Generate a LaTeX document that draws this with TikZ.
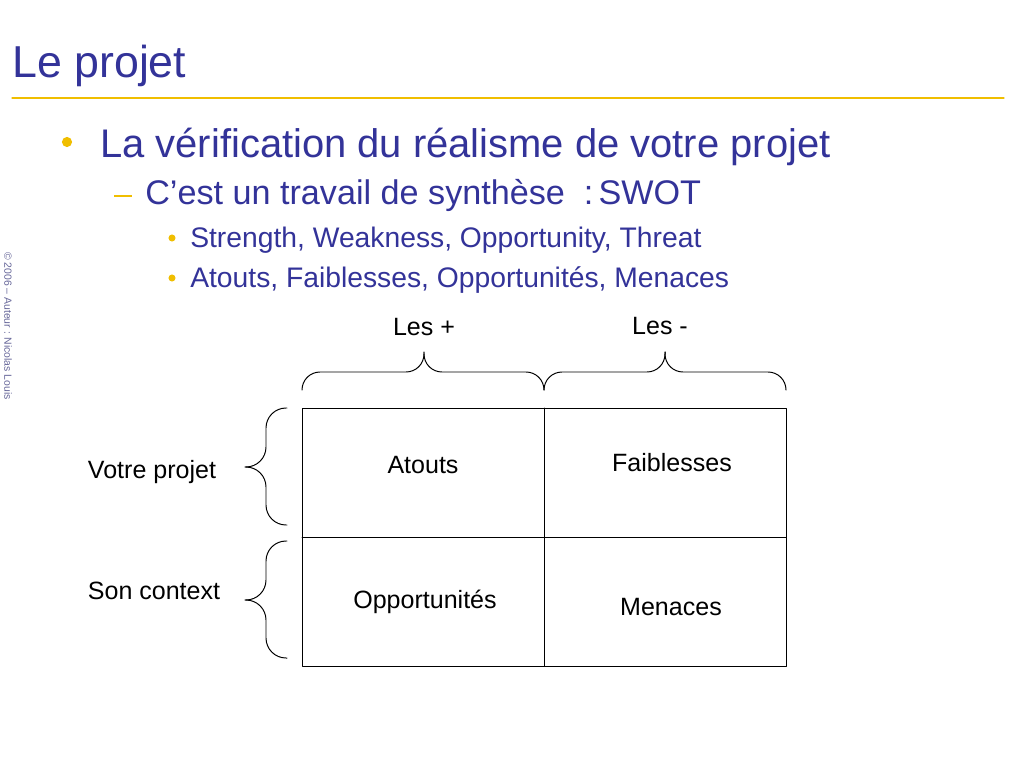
\documentclass[tikz,border=0pt]{standalone}
\usepackage{fontspec}
\setmainfont{Liberation Sans}
\definecolor{bleu}{RGB}{51,51,153}
\definecolor{puce}{RGB}{240,190,0}
\definecolor{gris}{RGB}{102,102,153}
\begin{document}
\begin{tikzpicture}[x=0.025cm,y=-0.025cm,line join=round,line cap=round,
	titre/.style={font=\fontsize{31.8}{36}\selectfont,text=bleu,inner sep=0pt,anchor=base west},
	niva/.style={font=\fontsize{28.4}{34}\selectfont,text=bleu,inner sep=0pt,anchor=base west},
	nivb/.style={font=\fontsize{24.3}{29}\selectfont,text=bleu,inner sep=0pt,anchor=base west},
	nivc/.style={font=\fontsize{20.1}{24}\selectfont,text=bleu,inner sep=0pt,anchor=base west},
	lbl/.style={font=\fontsize{17.8}{21}\selectfont,inner sep=0pt,anchor=base},
	trait/.style={line width=0.7pt},
	accolade/.style={trait,rounded corners=#1}]
	\fill[white] (0,0) rectangle (1024,768);
	\useasboundingbox (0,0) rectangle (1024,768);
	% titre
	\node[titre] (titre) at (12,78) {Le projet};
	\coordinate (ga) at (12,98);
	\coordinate (gb) at (1004,98);
	\draw[puce,line width=0.8pt] (ga)--(gb);
	\node[rotate=-90,text=gris,font=\fontsize{7.4}{9}\selectfont,inner sep=0pt] (copy) at (8,326) {© 2006 – Auteur : Nicolas Louis};
	% liste
	\fill[puce] (67,142) circle (3.6pt);
	\node[niva] (la) at (100,157) {La vérification du réalisme de votre projet};
	\fill[puce] (114,195) rectangle (132,197);
	\node[nivb] (lb) at (145,204) {C’est un travail de synthèse\ \ :\hspace{0.15em}SWOT};
	\fill[puce] (172,238) circle (2.5pt);
	\node[nivc] (lc) at (190,247) {Strength, Weakness, Opportunity, Threat};
	\fill[puce] (172,278) circle (2.5pt);
	\node[nivc] (ld) at (190,287) {Atouts, Faiblesses, Opportunités, Menaces};
	% grille
	\coordinate (hg) at (302,408);
	\coordinate (hm) at (544,408);
	\coordinate (hd) at (786,408);
	\coordinate (mg) at (302,537);
	\coordinate (md) at (786,537);
	\coordinate (bg) at (302,666);
	\coordinate (bm) at (544,666);
	\coordinate (bd) at (786,666);
	\draw[trait] (hg) rectangle (bd);
	\draw[trait] (hm)--(bm);
	\draw[trait] (mg)--(md);
	% accolades du haut
	\coordinate (aa) at (302,390);
	\coordinate (ab) at (544,390);
	\coordinate (ac) at (786,390);
	\coordinate (fa) at (424,372);
	\coordinate (ta) at (424,352);
	\coordinate (fb) at (665,372);
	\coordinate (tb) at (665,352);
	\draw[accolade=0.45cm] (aa) |- (fa) -- (ta);
	\draw[accolade=0.45cm] (ta) -- (fa) -| (ab);
	\draw[accolade=0.45cm] (ab) |- (fb) -- (tb);
	\draw[accolade=0.45cm] (tb) -- (fb) -| (ac);
	% accolades de gauche
	\coordinate (va) at (287,408);
	\coordinate (vb) at (287,525);
	\coordinate (fc) at (266,467);
	\coordinate (tc) at (245,467);
	\coordinate (vc) at (287,541);
	\coordinate (vd) at (287,658);
	\coordinate (fd) at (266,600);
	\coordinate (td) at (245,600);
	\draw[accolade=0.5cm] (va) -| (fc) -- (tc);
	\draw[accolade=0.5cm] (tc) -- (fc) |- (vb);
	\draw[accolade=0.5cm] (vc) -| (fd) -- (td);
	\draw[accolade=0.5cm] (td) -- (fd) |- (vd);
	% textes
	\node[lbl] (plus) at (424,335) {Les +};
	\node[lbl] (moins) at (660,334) {Les -};
	\node[lbl] (proj) at (152,478) {Votre projet};
	\node[lbl] (ctx) at (154,599) {Son context};
	\node[lbl] (at) at (423,473) {Atouts};
	\node[lbl] (fa) at (672,471) {Faiblesses};
	\node[lbl] (op) at (425,608) {Opportunités};
	\node[lbl] (me) at (671,615) {Menaces};
\end{tikzpicture}
\end{document}
